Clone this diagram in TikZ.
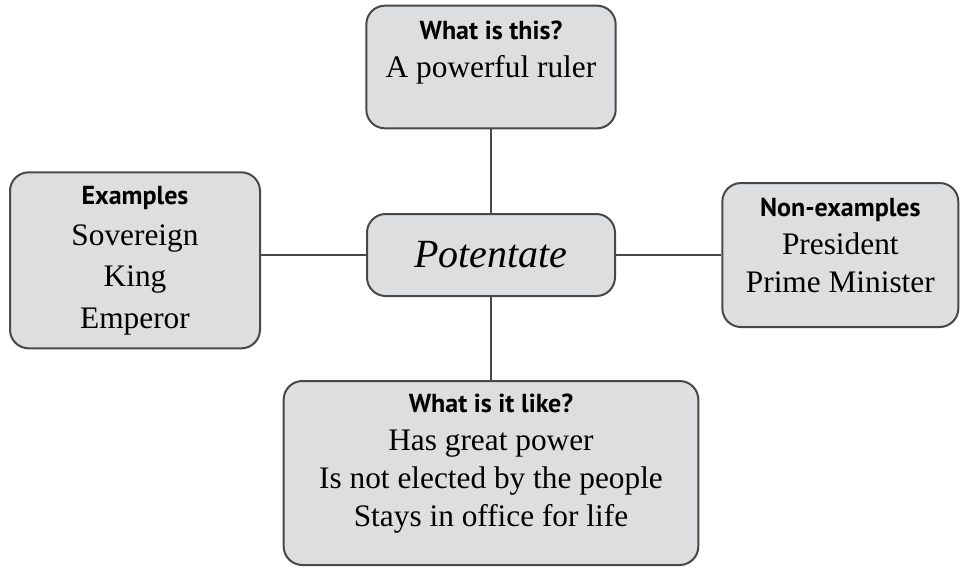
\documentclass[tikz,border=0pt]{standalone}
\usepackage{fontspec}
\setmainfont{Liberation Serif}
\newfontfamily\headfont{PT Sans}
\usetikzlibrary{positioning}

\definecolor{boxgray}{RGB}{221,222,224}
\definecolor{linegray}{RGB}{72,72,72}

\newcommand{\hd}[1]{{\headfont\bfseries\fontsize{19.5}{23}\selectfont #1}}

\begin{document}
\begin{tikzpicture}[on grid,
   box/.style={draw=linegray, line width=1.5pt, fill=boxgray, rounded corners=14pt,
               align=center, inner sep=0pt, font=\fontsize{23.5}{28.5}\selectfont},
   link/.style={draw=linegray, line width=1.5pt}]
   \useasboundingbox (0,0) rectangle (720pt,-426pt);

   \node[box, minimum width=186pt, minimum height=61.5pt,
         font=\fontsize{30}{34}\selectfont\itshape] (pot) at (368.25pt,-191.25pt) {Potentate};
   \node[box, minimum width=187pt, minimum height=92pt, text depth=27pt]
         (what)  [above=141pt of pot]                 {\hd{What is this?}\\A powerful ruler};
   \node[box, minimum width=187.5pt, minimum height=132pt, font=\fontsize{23.5}{31}\selectfont]
         (ex)    [below left=4pt and 267pt of pot]    {\hd{Examples}\\Sovereign\\King\\Emperor};
   \node[box, minimum width=177pt, minimum height=108pt, text depth=15pt]
         (nonex) [right=262pt of pot]                 {\hd{Non-examples}\\President\\Prime Minister};
   \node[box, minimum width=311pt, minimum height=138pt, text depth=19pt]
         (like)  [below=163.5pt of pot]               {\hd{What is it like?}\\Has great power\\
                                                       Is not elected by the people\\Stays in office for life};

   \path[link]
    (what)      edge (pot)
    (pot)       edge (like)
    (pot.west)  edge (pot.west -| ex.east)
    (pot.east)  edge (nonex);
\end{tikzpicture}
\end{document}
